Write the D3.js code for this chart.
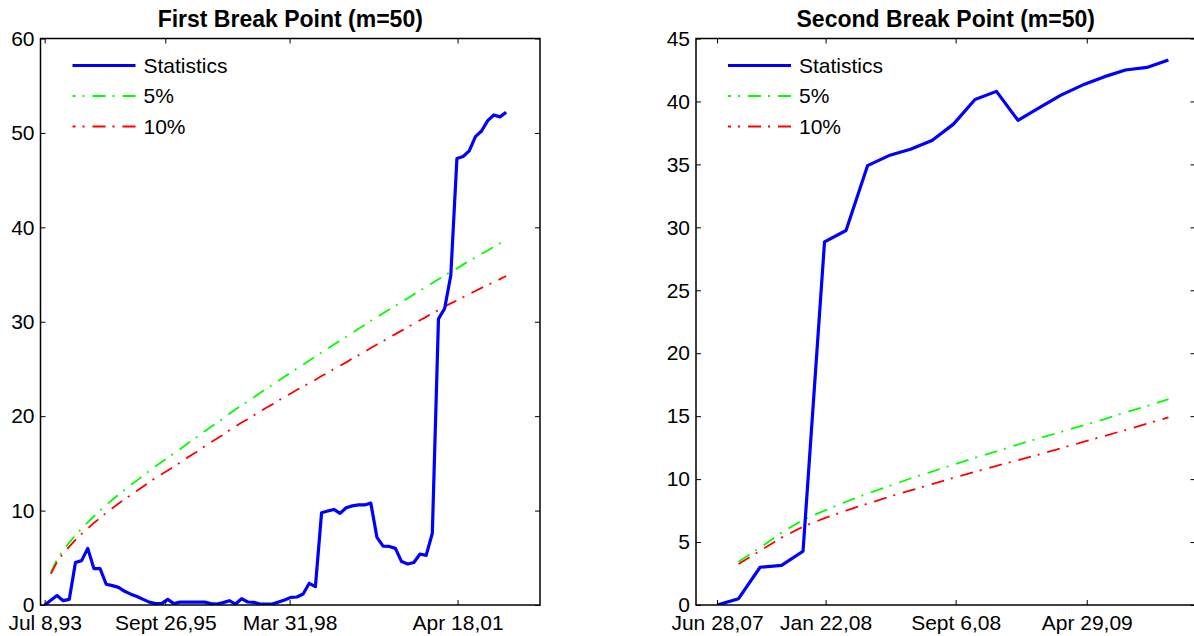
<!DOCTYPE html>
<html><head><meta charset="utf-8">
<script src="https://cdn.jsdelivr.net/npm/d3@7"></script>
<style>
body{margin:0;background:#fff;}
svg{display:block;}
text{font-family:"Liberation Sans",Arial,Helvetica,sans-serif;}
</style>
</head><body>
<svg id="chart" width="1194" height="636"></svg>
<script>
// ---------- data: first break point ----------
const firstTitle = "First Break Point (m=50)";
const firstStat = [0,0.5,1.0,0.46,0.6,4.5,4.7,6.0,3.85,3.85,2.2,2.05,1.87,1.45,1.15,0.9,0.6,0.3,0.15,0.15,
  0.6,0.15,0.3,0.3,0.3,0.3,0.3,0.15,0.1,0.25,0.46,0.1,0.67,0.32,0.28,0.1,0.1,0.1,0.32,0.53,
  0.81,0.85,1.16,2.3,1.94,9.77,9.95,10.12,9.7,10.3,10.5,10.6,10.6,10.8,7.16,6.24,6.2,6.0,4.6,4.34,
  4.5,5.4,5.26,7.6,30.3,31.4,34.9,47.3,47.5,48.1,49.6,50.2,51.3,51.9,51.7,52.2];
const firstCrit5 = [null,3.46,4.8,5.8,6.6,7.4,8.1,8.75,9.4,10.0,10.6,11.15,11.7,12.2,12.7,13.2,13.7,14.2,14.7,15.15,
  15.6,16.05,16.5,17.0,17.45,17.9,18.4,18.85,19.3,19.75,20.25,20.7,21.15,21.55,22.0,22.45,22.9,23.3,23.75,24.2,
  24.6,25.05,25.45,25.9,26.3,26.75,27.15,27.6,28.0,28.4,28.85,29.25,29.65,30.1,30.5,30.9,31.3,31.7,32.1,32.5,
  32.9,33.3,33.7,34.1,34.5,34.9,35.3,35.65,36.05,36.45,36.8,37.2,37.55,37.95,38.3,38.7];
const firstCrit10 = [null,3.3,4.55,5.47,6.18,6.9,7.53,8.11,8.69,9.22,9.75,10.25,10.75,11.2,11.65,12.1,12.55,13.0,13.45,13.85,
  14.25,14.66,15.07,15.53,15.94,16.35,16.81,17.22,17.63,18.04,18.5,18.91,19.32,19.68,20.09,20.5,20.9,21.25,21.65,22.05,
  22.4,22.79,23.13,23.52,23.86,24.25,24.6,25.0,25.35,25.7,26.1,26.46,26.82,27.23,27.59,27.95,28.32,28.69,29.06,29.43,
  29.8,30.16,30.52,30.88,31.24,31.6,31.95,32.25,32.6,32.95,33.25,33.59,33.88,34.22,34.51,34.85];
const firstXTickPos = [0, 19.6, 39.8, 67.1];
const firstXTickLabels = ["Jul 8,93", "Sept 26,95", "Mar 31,98", "Apr 18,01"];
const firstYTicks = [0, 10, 20, 30, 40, 50, 60];

// ---------- data: second break point ----------
const secondTitle = "Second Break Point (m=50)";
const secondStat = [0,0.5,3.0,3.15,4.27,28.85,29.75,34.9,35.7,36.2,36.9,38.2,40.15,40.8,38.5,39.5,40.5,41.3,41.95,42.5,42.7,43.3];
const secondCrit5 = [null,3.44,4.55,5.75,6.76,7.5,8.2,8.85,9.45,10.05,10.6,11.15,11.7,12.2,12.75,13.25,13.75,14.25,14.75,15.3,15.8,16.35];
const secondCrit10 = [null,3.26,4.3,5.35,6.22,6.9,7.5,8.05,8.6,9.1,9.6,10.1,10.58,11.05,11.5,11.97,12.45,12.93,13.42,13.9,14.4,14.9];
const secondXTickPos = [0, 5.05, 11.1, 17.2];
const secondXTickLabels = ["Jun 28,07", "Jan 22,08", "Sept 6,08", "Apr 29,09"];
const secondYTicks = [0, 5, 10, 15, 20, 25, 30, 35, 40, 45];

const legendLabels = ["Statistics", "5%", "10%"];
const seriesColors = ["#0000ff", "#00ff00", "#ff0000"];

// ---------- drawing ----------
const svg = d3.select("#chart");
const FONT = 21;
const TITLE_FONT = 23;
const DASH = "13,7,2,8";

function panel(cfg) {
  const x = d3.scaleLinear().domain(cfg.xDomain).range([cfg.left, cfg.right]);
  const y = d3.scaleLinear().domain([0, cfg.yMax]).range([cfg.bottom, cfg.top]);
  const g = svg.append("g");

  const clipId = "clip" + cfg.id;
  g.append("clipPath").attr("id", clipId).append("rect")
    .attr("x", cfg.left).attr("y", cfg.top)
    .attr("width", cfg.right - cfg.left).attr("height", cfg.bottom - cfg.top);

  const line = d3.line().defined(d => d != null).x((d, i) => x(i)).y(d => y(d));
  const plot = g.append("g").attr("clip-path", `url(#${clipId})`);

  [cfg.crit5, cfg.crit10].forEach((s, k) => {
    plot.append("path").datum(s)
      .attr("d", line)
      .attr("fill", "none")
      .attr("stroke", seriesColors[k + 1])
      .attr("stroke-width", 1.8)
      .attr("stroke-dasharray", DASH);
  });
  plot.append("path").datum(cfg.stat)
    .attr("d", line)
    .attr("fill", "none")
    .attr("stroke", seriesColors[0])
    .attr("stroke-width", 3.2)
    .attr("stroke-linejoin", "round");

  // axes (ticks pointing inward, MATLAB style)
  const styleAxis = sel => {
    sel.select(".domain").remove();
    sel.attr("font-size", FONT).attr("font-family", null);
    sel.selectAll("line").attr("stroke", "#000").attr("stroke-width", 1);
    sel.selectAll("text").attr("fill", "#000");
  };
  g.append("g").attr("transform", `translate(${cfg.left},0)`)
    .call(d3.axisLeft(y).tickValues(cfg.yTicks).tickSize(-5).tickPadding(6))
    .call(styleAxis);
  g.append("g").attr("transform", `translate(${cfg.right},0)`)
    .call(d3.axisRight(y).tickValues(cfg.yTicks).tickSize(-5).tickFormat(""))
    .call(styleAxis);
  g.append("g").attr("transform", `translate(0,${cfg.bottom})`)
    .call(d3.axisBottom(x).tickValues(cfg.xTickPos).tickSize(-5).tickPadding(10)
      .tickFormat((d, i) => cfg.xTickLabels[i]))
    .call(styleAxis);
  g.append("g").attr("transform", `translate(0,${cfg.top})`)
    .call(d3.axisTop(x).tickValues(cfg.xTickPos).tickSize(-5).tickFormat(""))
    .call(styleAxis);

  g.append("rect")
    .attr("x", cfg.left).attr("y", cfg.top)
    .attr("width", cfg.right - cfg.left).attr("height", cfg.bottom - cfg.top)
    .attr("fill", "none").attr("stroke", "#000").attr("stroke-width", 1.5);

  // title
  g.append("text")
    .attr("x", (cfg.left + cfg.right) / 2).attr("y", 27)
    .attr("text-anchor", "middle").attr("font-weight", "bold")
    .attr("font-size", TITLE_FONT).text(cfg.title);

  // legend
  const lg = g.append("g");
  legendLabels.forEach((lab, k) => {
    const ly = cfg.top + 27 + k * 30.5;
    lg.append("line")
      .attr("x1", cfg.left + 32).attr("x2", cfg.left + 95)
      .attr("y1", ly).attr("y2", ly)
      .attr("stroke", seriesColors[k])
      .attr("stroke-width", k === 0 ? 3.2 : 1.8)
      .attr("stroke-dasharray", k === 0 ? null : DASH)
      .attr("stroke-dashoffset", k === 0 ? null : 10);
    lg.append("text")
      .attr("x", cfg.left + 103).attr("y", ly)
      .attr("dy", "0.35em")
      .attr("font-size", FONT).text(lab);
  });
}

panel({
  id: 1, title: firstTitle,
  left: 40.5, right: 540, top: 38.5, bottom: 605,
  xDomain: [-0.68, 80.5], yMax: 60,
  stat: firstStat, crit5: firstCrit5, crit10: firstCrit10,
  xTickPos: firstXTickPos, xTickLabels: firstXTickLabels, yTicks: firstYTicks
});
panel({
  id: 2, title: secondTitle,
  left: 696, right: 1195.5, top: 38.5, bottom: 605,
  xDomain: [-0.98, 22.26], yMax: 45,
  stat: secondStat, crit5: secondCrit5, crit10: secondCrit10,
  xTickPos: secondXTickPos, xTickLabels: secondXTickLabels, yTicks: secondYTicks
});
</script>
</body></html>
